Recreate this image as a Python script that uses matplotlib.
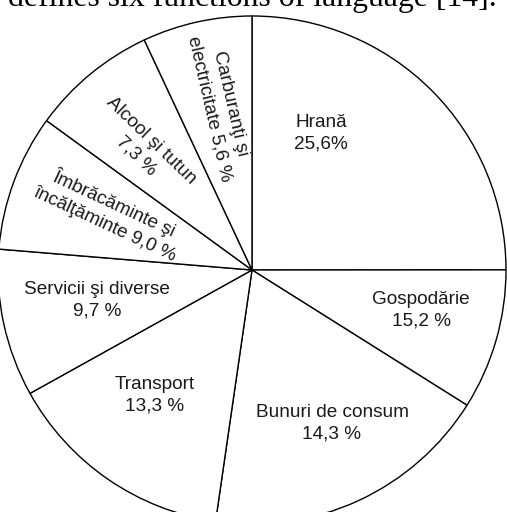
import matplotlib
matplotlib.use("Agg")
import matplotlib.pyplot as plt

# slice names and the shares printed on the chart
categories = ["Hrană", "Gospodărie", "Bunuri de consum", "Transport",
              "Servicii şi diverse", "Îmbrăcăminte şi", "Alcool şi tutun",
              "Carburanţi şi"]
shares = [25.6, 15.2, 14.3, 13.3, 9.7, 9.0, 7.3, 5.6]
label_texts = ["Hrană\n25,6%", "Gospodărie\n15,2 %", "Bunuri de consum\n14,3 %",
               "Transport\n13,3 %", "Servicii şi diverse\n9,7 %",
               "Îmbrăcăminte şi\nîncălţăminte 9,0 %", "Alcool şi tutun\n7,3 %",
               "Carburanţi şi\nelectricitate 5,6 %"]
# the wedges in the picture are not drawn to scale: angle of each slice (deg)
drawn_deg = [90, 32.2, 66.1, 52.7, 33.8, 31.3, 28.9, 25.1]

caption = "defines six functions of language [14]."

W, H = 507, 512
fig = plt.figure(figsize=(W / 100, H / 100), dpi=100)
ax = fig.add_axes([0, 0, 1, 1])

cx, cy, R = 252, H - 270, 254
ax.pie(drawn_deg, startangle=90, counterclock=False, center=(cx, cy), radius=R,
       colors=["white"] * len(drawn_deg),
       wedgeprops=dict(edgecolor="black", linewidth=1.0))
ax.set_xlim(0, W)
ax.set_ylim(0, H)
ax.set_aspect("auto")
ax.axis("off")

# label placement (pixel coords from top-left) and rotation
label_xy = [(321, 133), (421, 310), (332, 423), (155, 395), (97, 300),
            (110, 213), (144, 148), (220, 106)]
label_rot = [0, 0, 0, 0, 0, -25, -44, -77]
for txt, (x, y), rot in zip(label_texts, label_xy, label_rot):
    ax.text(x, H - y, txt, ha="center", va="center", rotation=rot,
            rotation_mode="anchor", multialignment="center",
            fontsize=13.7, family="Liberation Sans", color="#1a1a1a",
            linespacing=1.35)

# cut-off line of the surrounding document
ax.text(8, H - 6, caption, ha="left", va="baseline", fontsize=22.9,
        family="Liberation Serif", color="black")

fig.savefig("out.png", dpi=100)
